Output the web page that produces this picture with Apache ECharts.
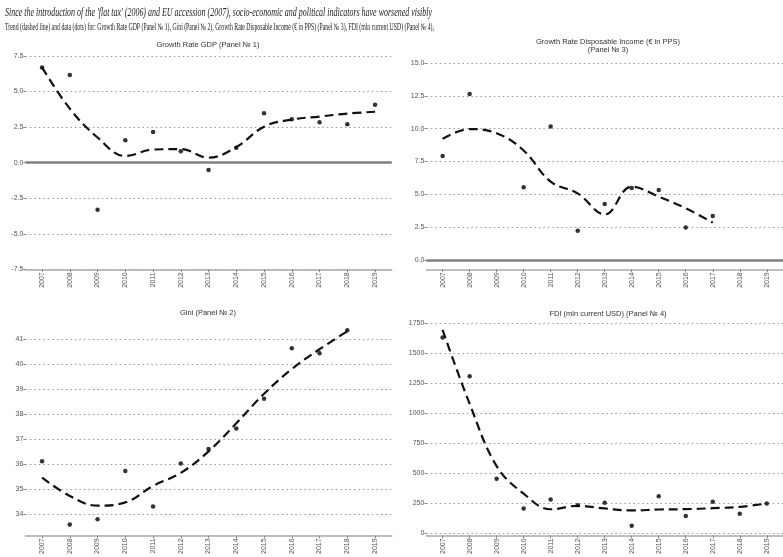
<!DOCTYPE html>
<html><head><meta charset="utf-8">
<script src="https://cdn.jsdelivr.net/npm/echarts@6/dist/echarts.min.js"></script>
<style>html,body{margin:0;padding:0;background:#fff}#c{width:783px;height:557px}</style>
</head><body><div id="c"></div>
<script>
const years = [2007,2008,2009,2010,2011,2012,2013,2014,2015,2016,2017,2018,2019];

const gdpData    = [6.7, 6.17, -3.31, 1.58, 2.15, 0.8, -0.52, 1.04, 3.48, 3.05, 2.84, 2.7, 4.07];
const gdpTrend   = [6.7, 3.8, 1.77, 0.47, 0.92, 0.95, 0.35, 1.1, 2.53, 3.03, 3.24, 3.45, 3.58];

const giniData   = [36.1, 33.58, 33.79, 35.71, 34.3, 36.01, 36.59, 37.41, 38.6, 40.62, 40.42, 41.34, null];
const giniTrend  = [35.45, 34.72, 34.33, 34.46, 35.12, 35.64, 36.5, 37.62, 38.8, 39.79, 40.58, 41.3, null];

const incomeData  = [7.93, 12.64, null, 5.54, 10.17, 2.24, 4.27, 5.49, 5.34, 2.49, 3.36, null, null];
const incomeTrend = [9.23, 9.97, 9.66, 8.34, 5.97, 5.08, 3.48, 5.59, 4.83, 3.94, 2.85, null, null];

const fdiData    = [1631, 1309, 455, 207, 281, 234, 254, 63, 309, 143, 262, 163, 248];
const fdiTrend   = [1695, 1080, 560, 330, 200, 229, 207, 190, 198, 201, 209, 220, 248];

const gdpTicks    = [-7.5, -5, -2.5, 0, 2.5, 5, 7.5];
const giniTicks   = [34, 35, 36, 37, 38, 39, 40, 41];
const incomeTicks = [0, 2.5, 5, 7.5, 10, 12.5, 15];
const fdiTicks    = [0, 250, 500, 750, 1000, 1250, 1500, 1750];

const mainTitle = "Since the introduction of the 'flat tax' (2006) and EU accession (2007), socio-economic and political indicators have worsened visibly";
const subTitle = "Trend (dashed line) and data (dots) for: Growth Rate GDP (Panel \u2116 1), Gini (Panel \u2116 2), Growth Rate Disposable Income (\u20ac in PPS) (Panel \u2116 3), FDI (mln current USD) (Panel \u2116 4),";
const panelTitles = ["Growth Rate GDP (Panel \u2116 1)", "Gini (Panel \u2116 2)", "Growth Rate Disposable Income (\u20ac in PPS)", "(Panel \u2116 3)", "FDI (mln current USD) (Panel \u2116 4)"];

function pairs(arr){ return years.map((y,i)=>[y, arr[i]]); }
function fit(text, font, target){
  const ctx = document.createElement('canvas').getContext('2d');
  ctx.font = font;
  return target / ctx.measureText(text).width;
}

const grids = [
  {left:25.4, width:366.3, top:56, height:213.3},
  {left:25.4, width:366.3, top:323, height:214.7},
  {left:426.4, width:365.2, top:63, height:206.3},
  {left:426.4, width:365.2, top:323.3, height:212.4}
];
const yDefs = [
  {min:-7.5, max:7.5, ticks:gdpTicks, fmt:v=>v.toFixed(1)},
  {min:33.14, max:41.63, ticks:giniTicks, fmt:v=>String(v)},
  {min:-0.7, max:15, ticks:incomeTicks, fmt:v=>v.toFixed(1)},
  {min:-18, max:1750, ticks:fdiTicks, fmt:v=>String(v)}
];
const labelFont = '"Liberation Sans", Arial, sans-serif';

const xAxes = grids.map((g,i)=>({
  type:'value', gridIndex:i, min:2006.4, max:2019.6,
  axisLine:{show:true, onZero:false, lineStyle:{color:'#aaa', width:1.5}},
  axisTick:{show:true, customValues:years, length:3, lineStyle:{color:'#888'}},
  axisLabel:{customValues:years, rotate:90, fontSize:7, color:'#555', margin:3, fontFamily:labelFont, formatter:v=>String(Math.round(v))},
  splitLine:{show:false}
}));
const yAxes = yDefs.map((d,i)=>({
  type:'value', gridIndex:i, min:d.min, max:d.max,
  axisLine:{show:false},
  axisTick:{show:true, customValues:d.ticks, length:2, lineStyle:{color:'#888'}},
  axisLabel:{customValues:d.ticks, fontSize:7, color:'#555', margin:2, fontFamily:labelFont, formatter:d.fmt},
  splitLine:{show:true, lineStyle:{color:'#999', width:1, type:[1.5,3]}}
}));

const dataSets = [[gdpData, gdpTrend], [giniData, giniTrend], [incomeData, incomeTrend], [fdiData, fdiTrend]];
const series = [];
dataSets.forEach((ds,i)=>{
  const sc = {
    type:'scatter', xAxisIndex:i, yAxisIndex:i, data:pairs(ds[0]).filter(p=>p[1]!==null),
    symbolSize:4.5, itemStyle:{color:'#000'}, silent:true, z:4
  };
  if (i===0 || i===2) {
    sc.markLine = {silent:true, symbol:'none', label:{show:false},
      lineStyle:{color:'#808080', width:2.5, type:'solid'}, data:[{yAxis:0}]};
  }
  series.push(sc);
  series.push({
    type:'line', xAxisIndex:i, yAxisIndex:i, data:pairs(ds[1]).filter(p=>p[1]!==null),
    smooth:0.4, showSymbol:false, silent:true, z:3,
    lineStyle:{color:'#111', width:2.2, type:[9,5]}
  });
});

const tFont = 'italic 12.5px "Liberation Serif"';
const sFont = '9.5px "Liberation Serif"';
const graphic = [
  {type:'text', x:5, y:13, scaleX:fit(mainTitle, tFont, 427), silent:true,
   style:{text:mainTitle, font:tFont, fill:'#222', textVerticalAlign:'middle', verticalAlign:'middle'}},
  {type:'text', x:5, y:27, scaleX:fit(subTitle, sFont, 429), silent:true,
   style:{text:subTitle, font:sFont, fill:'#222', textVerticalAlign:'middle', verticalAlign:'middle'}},
  {type:'text', x:208, y:45, silent:true, style:{text:panelTitles[0], font:'7.5px '+labelFont, fill:'#333', textAlign:'center', textVerticalAlign:'middle', verticalAlign:'middle'}},
  {type:'text', x:208, y:313, silent:true, style:{text:panelTitles[1], font:'7.5px '+labelFont, fill:'#333', textAlign:'center', textVerticalAlign:'middle', verticalAlign:'middle'}},
  {type:'text', x:608, y:42, silent:true, style:{text:panelTitles[2], font:'7.5px '+labelFont, fill:'#333', textAlign:'center', textVerticalAlign:'middle', verticalAlign:'middle'}},
  {type:'text', x:608, y:49.5, silent:true, style:{text:panelTitles[3], font:'7.5px '+labelFont, fill:'#333', textAlign:'center', textVerticalAlign:'middle', verticalAlign:'middle'}},
  {type:'text', x:608, y:314, silent:true, style:{text:panelTitles[4], font:'7.5px '+labelFont, fill:'#333', textAlign:'center', textVerticalAlign:'middle', verticalAlign:'middle'}}
];

const chart = echarts.init(document.getElementById('c'), null, {renderer:'canvas'});
chart.setOption({
  animation:false,
  backgroundColor:'#fff',
  grid:grids,
  xAxis:xAxes,
  yAxis:yAxes,
  series:series,
  graphic:graphic
});
</script>
</body></html>
